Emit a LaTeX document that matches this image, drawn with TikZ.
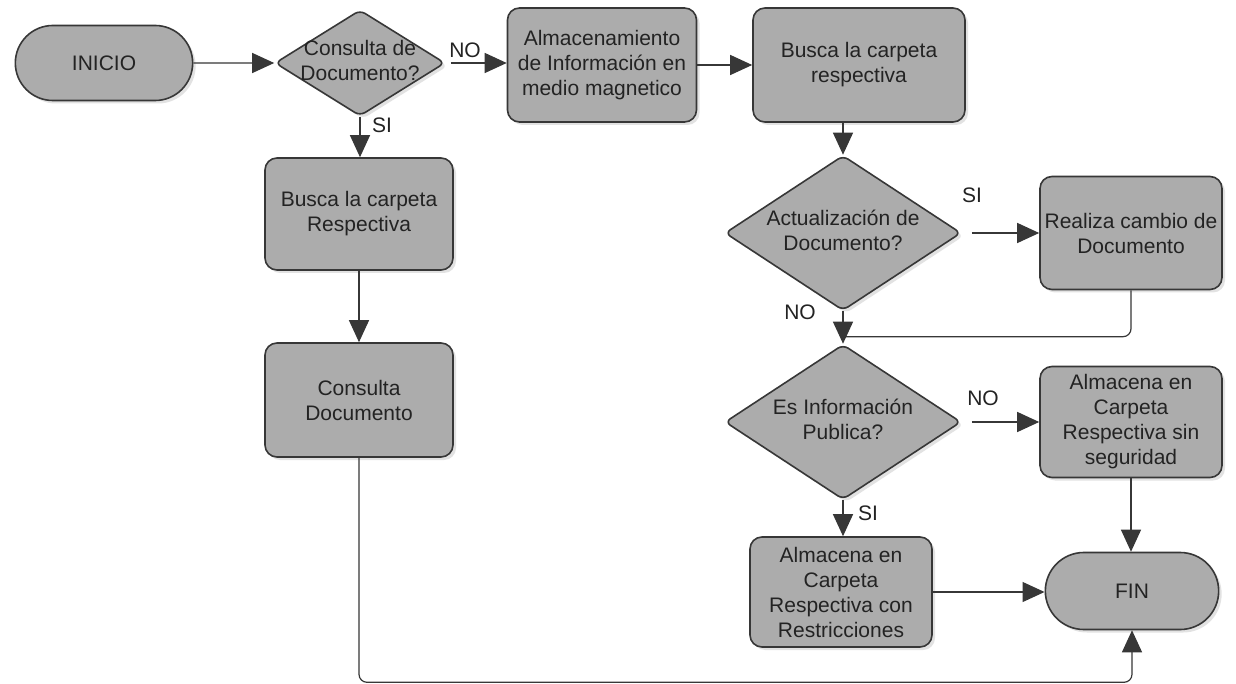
\documentclass[tikz,border=0pt]{standalone}
\usepackage{fontspec}
\setmainfont{Liberation Sans}
\usetikzlibrary{arrows.meta,shapes.geometric,shapes.misc,shadows,calc}
\definecolor{boxfill}{RGB}{172,172,172}
\definecolor{edgecol}{RGB}{55,55,55}
\definecolor{txt}{RGB}{35,35,35}
\newcommand{\ztext}[1]{\makebox[0pt]{\begin{tabular}{@{}c@{}}#1\end{tabular}}}
\begin{document}
\begin{tikzpicture}[x=1pt,y=-1pt,
  every node/.style={font=\fontsize{21}{25}\selectfont, text=txt},
  base/.style={draw=edgecol, line width=1.6pt, fill=boxfill,
    drop shadow={shadow xshift=3pt,shadow yshift=-3pt,fill=black!22}},
  procbox/.style={base, rectangle, rounded corners=12pt, align=center, inner sep=2pt},
  term/.style={base, rounded rectangle, minimum width=184pt, minimum height=75pt},
  decision/.style={base, diamond, rounded corners=6pt, inner sep=0pt},
  conn/.style={draw=edgecol, line width=1.2pt, -{Triangle[length=22pt,width=20pt]}},
  plainline/.style={draw=edgecol, line width=1.2pt},
  lbl/.style={inner sep=0pt}
]
\useasboundingbox (0,0) rectangle (1236,684);
\fill[white] (0,0) rectangle (1236,684);

\node[term] (inicio) at (104,63) {INICIO};
\node[decision, minimum width=170pt, minimum height=106pt] (d1) at (360,63) {\ztext{Consulta de\\Documento?}};
\node[procbox, minimum width=189pt, minimum height=114pt] (alm) at (602,65) {Almacenamiento\\de Información en\\medio magnetico};
\node[procbox, minimum width=212pt, minimum height=114pt] (busca) at (859,65) {Busca la carpeta\\respectiva};
\node[decision, minimum width=236pt, minimum height=155pt] (d2) at (843,233) {\ztext{Actualización de\\Documento?}};
\node[procbox, minimum width=182pt, minimum height=113pt] (realiza) at (1131,233) {Realiza cambio de\\Documento};
\node[decision, minimum width=236pt, minimum height=155pt] (d3) at (843,422) {\ztext{Es Información\\Publica?}};
\node[procbox, minimum width=182pt, minimum height=111pt] (sinseg) at (1131,422) {Almacena en\\Carpeta\\Respectiva sin\\seguridad};
\node[procbox, minimum width=182pt, minimum height=110pt] (conres) at (841,592) {Almacena en\\Carpeta\\Respectiva con\\Restricciones};
\node[term, minimum width=180pt, minimum height=77pt] (fin) at (1132,591) {FIN};
\node[procbox, minimum width=188pt, minimum height=112pt] (buscaR) at (359,214) {Busca la carpeta\\Respectiva};
\node[procbox, minimum width=188pt, minimum height=114pt] (consulta) at (359,400) {Consulta\\Documento};

\draw[conn] (inicio) -- (d1);
\draw[conn, shorten <=5pt] (d1.east) -- (d1.east -| alm.west);
\draw[conn] (alm) -- (busca);
\draw[conn] (busca.south -| d2.north) -- (d2.north);
\draw[conn] (d1.south) -- (d1.south |- buscaR.north);
\draw[conn] (buscaR) -- (consulta);
\draw[conn, shorten <=10pt] (d2.east) -- (realiza.west);
\draw[conn] (d2.south) -- (d3.north);
\draw[plainline, rounded corners=8pt] (realiza.south) |- ($(d3.north)+(0,-7)$);
\draw[conn, shorten <=10pt] (d3.east) -- (sinseg.west);
\draw[conn] (d3.south) -- (d3.south |- conres.north);
\draw[conn] (sinseg.south) -- (sinseg.south |- fin.north);
\draw[conn] (conres.east) -- (conres.east -| fin.west);
\draw[conn, rounded corners=8pt] (consulta.south) |- ($(fin.south)+(0,52)$) -- (fin.south);

\node[lbl] (no1) at (465,50) {NO};
\node[lbl] (si1) at (382,125) {SI};
\node[lbl] (si2) at (972,195) {SI};
\node[lbl] (no2) at (800,312) {NO};
\node[lbl] (no3) at (983,398) {NO};
\node[lbl] (si3) at (868,513) {SI};
\end{tikzpicture}
\end{document}
